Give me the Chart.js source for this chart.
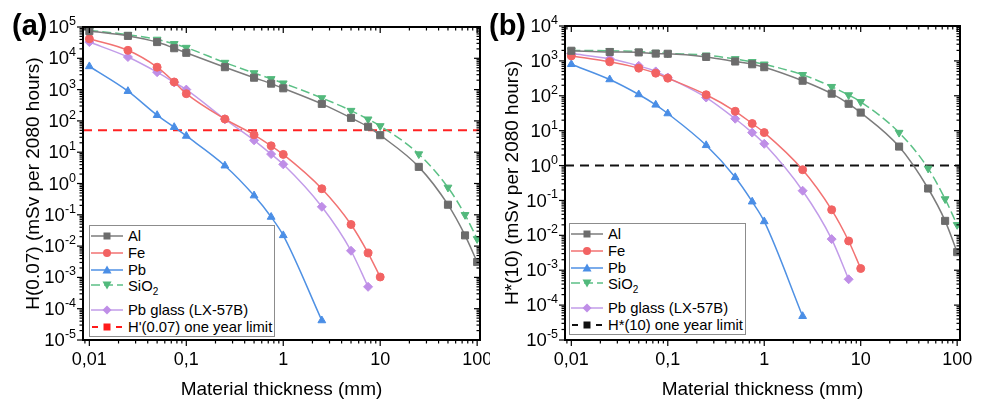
<!DOCTYPE html>
<html>
<head>
<meta charset="utf-8">
<script src="https://cdn.jsdelivr.net/npm/chart.js@4.4.1/dist/chart.umd.min.js"></script>
<style>
  body { margin: 0; background: #fff; font-family: "Liberation Sans", Arial, sans-serif; }
  #wrap { position: relative; width: 982px; height: 402px; overflow: hidden; }
  .panel { position: absolute; top: 0; }
  .tag { position: absolute; top: 11px; font-weight: bold; font-size: 29px; line-height: 28px; }
  .legend { position: absolute; background: #fff; border: 1.5px solid #8c8c8c; font-size: 14.8px; padding: 1px 2px 1px 0; }
  .row { display: flex; align-items: center; height: 17px; white-space: nowrap; }
  .row.tall { height: 23px; align-items: flex-start; }
  .row svg { margin: 0 5px 0 1px; flex: none; }
  sub { font-size: 10px; vertical-align: -4px; line-height: 0; }
</style>
</head>
<body>
<div id="wrap">
  <div class="panel" style="left:0"><canvas id="chartA" width="490" height="402"></canvas></div>
  <div class="panel" style="left:490px"><canvas id="chartB" width="492" height="402"></canvas></div>
  <div class="tag" style="left:12px">(a)</div>
  <div class="tag" style="left:489px">(b)</div>
  <div class="legend" id="legA" style="left:89px;top:225px"></div>
  <div class="legend" id="legB" style="left:569px;top:223px"></div>
</div>
<script>
const FONT = '"Liberation Sans", Arial, sans-serif';

const thickness = [0.01, 0.025, 0.05, 0.075, 0.1, 0.25, 0.5, 0.75, 1, 2.5, 5, 7.5, 10, 25, 50, 75, 100];
const xMin = 0.0086;
const xMax = 107;

// (a) H(0.07), mSv per 2080 hours
const alA = [74000, 52000, 33000, 21000, 15000, 5200, 2400, 1550, 1100, 350, 125, 65, 35, 3.4, 0.21, 0.022, 0.0031];
const feA = [42000, 18000, 5200, 1750, 740, 115, 36, 16, 8.5, 0.68, 0.049, 0.006, 0.00103];
const pbA = [5500, 890, 152, 63, 33, 3.7, 0.41, 0.085, 0.022, 0.000042];
const sio2A = [78000, 57000, 40000, 29000, 22000, 7300, 3400, 2200, 1600, 540, 213, 113, 69, 8.7, 0.75, 0.10, 0.017];
const pbGlassA = [33000, 11000, 3600, 1700, 1000, 113, 24, 8.7, 4.1, 0.18, 0.0071, 0.0005];
const limitA = 50;

// (b) H*(10), mSv per 2080 hours
const alB = [1950, 1800, 1750, 1620, 1600, 1300, 960, 800, 660, 270, 115, 59, 33, 3.5, 0.22, 0.026, 0.0033];
const feB = [1390, 940, 620, 445, 320, 107, 36, 16, 8.8, 0.76, 0.054, 0.0069, 0.00112];
const pbB = [800, 293, 109, 55, 31, 3.8, 0.46, 0.092, 0.025, 0.000048];
const sio2B = [2000, 1950, 1850, 1730, 1650, 1450, 1140, 940, 800, 400, 182, 105, 67, 8.8, 0.83, 0.11, 0.020];
const pbGlassB = [1620, 1150, 720, 500, 335, 89, 22, 8.8, 4.2, 0.19, 0.0078, 0.00055];
const limitB = 1;

const materials = ["Al", "Fe", "Pb", "SiO<sub>2</sub>", "Pb glass (LX-57B)"];
const styles = [
  { line: "#7c7c7c", fill: "#6c6c6c", shape: "rect", r: 5, dash: [] },
  { line: "#f27272", fill: "#f26363", shape: "circle", r: 4, dash: [] },
  { line: "#4f91e4", fill: "#4a8ee6", shape: "triangle", r: 4.5, dash: [] },
  { line: "#5cc086", fill: "#52b97c", shape: "triangleDown", r: 4.5, dash: [9, 4] },
  { line: "#c29ce9", fill: "#bf8ee7", shape: "rectRot", r: 4.5, dash: [] }
];

function logTicks(min, max) {
  const out = [];
  for (let e = Math.floor(Math.log10(min)); e <= Math.ceil(Math.log10(max)); e++) {
    for (let m = 1; m <= 9; m++) {
      const v = m * Math.pow(10, e);
      if (v >= min * 0.999 && v <= max * 1.001) out.push({ value: v, major: m === 1 });
    }
  }
  return out;
}

function line(ctx, x1, y1, x2, y2) {
  ctx.beginPath();
  ctx.moveTo(x1, y1);
  ctx.lineTo(x2, y2);
  ctx.stroke();
}

const framePlugin = {
  id: "frame",
  afterDatasetsDraw(chart) {
    const { ctx, chartArea: a, scales: { x, y } } = chart;
    ctx.save();
    ctx.strokeStyle = "#000";
    ctx.lineWidth = 1.2;
    for (const t of x.ticks) {
      const px = x.getPixelForValue(t.value);
      const L = t.major ? 6 : 3.5;
      line(ctx, px, a.bottom, px, a.bottom + L);
      line(ctx, px, a.top, px, a.top + L);
    }
    for (const t of y.ticks) {
      const py = y.getPixelForValue(t.value);
      const L = t.major ? 6 : 3.5;
      line(ctx, a.left - L, py, a.left, py);
      line(ctx, a.right - L, py, a.right, py);
    }
    ctx.lineWidth = 2;
    ctx.strokeRect(a.left, a.top, a.right - a.left, a.bottom - a.top);

    ctx.fillStyle = "#000";
    ctx.font = "18px " + FONT;
    ctx.textAlign = "center";
    ctx.textBaseline = "middle";
    for (const t of x.ticks) {
      if (!t.major) continue;
      ctx.fillText(String(t.value).replace(".", ","), x.getPixelForValue(t.value), a.bottom + 20);
    }
    for (const t of y.ticks) {
      if (!t.major) continue;
      const py = y.getPixelForValue(t.value);
      const e = Math.round(Math.log10(t.value));
      const exp = e < 0 ? "-" + (-e) : String(e);
      const right = a.left - 7;
      ctx.font = "12.5px " + FONT;
      const we = ctx.measureText(exp).width;
      ctx.textAlign = "left";
      ctx.textBaseline = "alphabetic";
      ctx.fillText(exp, right - we, py - 2);
      ctx.font = "18.5px " + FONT;
      ctx.textAlign = "right";
      ctx.textBaseline = "middle";
      ctx.fillText("10", right - we, py + 1);
    }
    ctx.restore();
  }
};

function makeDatasets(series, limit, limitColor) {
  const sets = series.map((vals, i) => {
    const s = styles[i];
    return {
      label: materials[i],
      data: vals.map((v, k) => ({ x: thickness[k], y: v })),
      borderColor: s.line,
      backgroundColor: s.fill,
      pointBorderColor: s.fill,
      pointBackgroundColor: s.fill,
      borderWidth: 1.5,
      borderDash: s.dash,
      pointStyle: s.shape === "triangleDown" ? "triangle" : s.shape,
      rotation: s.shape === "triangleDown" ? 180 : 0,
      pointRadius: s.r,
      pointBorderWidth: 1,
      cubicInterpolationMode: "monotone"
    };
  });
  sets.push({
    label: "limit",
    data: [{ x: xMin, y: limit }, { x: xMax, y: limit }],
    borderColor: limitColor,
    borderWidth: 2,
    borderDash: [9, 6],
    pointRadius: 0
  });
  return sets;
}

function makeChart(id, series, limit, limitColor, yMin, yMax, yTitle, pad, yWidth) {
  return new Chart(document.getElementById(id), {
    type: "line",
    data: { datasets: makeDatasets(series, limit, limitColor) },
    options: {
      responsive: false,
      animation: false,
      devicePixelRatio: 1,
      layout: { padding: pad },
      plugins: { legend: { display: false }, tooltip: { enabled: false } },
      scales: {
        x: {
          type: "logarithmic",
          min: xMin,
          max: xMax,
          afterBuildTicks: (s) => { s.ticks = logTicks(s.min, s.max); },
          afterFit: (s) => { s.height = 62; },
          grid: { display: false },
          border: { display: false },
          ticks: { display: false },
          title: { display: true, text: "Material thickness (mm)", color: "#000", font: { size: 19, family: FONT }, padding: { top: 0, bottom: 1 } }
        },
        y: {
          type: "logarithmic",
          min: yMin,
          max: yMax,
          afterBuildTicks: (s) => { s.ticks = logTicks(s.min, s.max); },
          afterFit: (s) => { s.width = yWidth; },
          grid: { display: false },
          border: { display: false },
          ticks: { display: false },
          title: { display: true, text: yTitle, color: "#000", font: { size: 19, family: FONT }, padding: 0 }
        }
      }
    },
    plugins: [framePlugin]
  });
}

makeChart("chartA", [alA, feA, pbA, sio2A, pbGlassA], limitA, "#ff2222", 1e-5, 1e5,
  "H(0.07) (mSv per 2080 hours)", { left: 22, top: 27, right: 10, bottom: 0 }, 61);
makeChart("chartB", [alB, feB, pbB, sio2B, pbGlassB], limitB, "#111111", 1e-5, 1e4,
  "H*(10) (mSv per 2080 hours)", { left: 11, top: 26, right: 22, bottom: 0 }, 64);

function markerSvg(shape, color, cx, cy) {
  if (shape === "rect") return `<rect x="${cx - 3.5}" y="${cy - 3.5}" width="7" height="7" fill="${color}"/>`;
  if (shape === "circle") return `<circle cx="${cx}" cy="${cy}" r="4" fill="${color}"/>`;
  if (shape === "triangle") return `<polygon points="${cx},${cy - 4.5} ${cx + 4.5},${cy + 3.5} ${cx - 4.5},${cy + 3.5}" fill="${color}"/>`;
  if (shape === "triangleDown") return `<polygon points="${cx},${cy + 4.5} ${cx + 4.5},${cy - 3.5} ${cx - 4.5},${cy - 3.5}" fill="${color}"/>`;
  return `<polygon points="${cx},${cy - 4.5} ${cx + 4.5},${cy} ${cx},${cy + 4.5} ${cx - 4.5},${cy}" fill="${color}"/>`;
}

function buildLegend(id, limitLabel, limitColor) {
  let html = "";
  materials.forEach((name, i) => {
    const s = styles[i];
    const dash = s.dash.length ? ` stroke-dasharray="${s.dash.join(",")}"` : "";
    html += `<div class="row${i === 3 ? " tall" : ""}"><svg width="32" height="14">` +
      `<line x1="0" y1="7" x2="32" y2="7" stroke="${s.line}" stroke-width="1.5"${dash}/>` +
      markerSvg(s.shape, s.fill, 16, 7) + `</svg><span>${name}</span></div>`;
  });
  html += `<div class="row"><svg width="32" height="14">` +
    `<line x1="1" y1="7" x2="7" y2="7" stroke="${limitColor}" stroke-width="2"/>` +
    `<line x1="25" y1="7" x2="31" y2="7" stroke="${limitColor}" stroke-width="2"/>` +
    markerSvg("rect", limitColor, 16, 7) + `</svg><span>${limitLabel}</span></div>`;
  document.getElementById(id).innerHTML = html;
}

buildLegend("legA", "H'(0.07) one year limit", "#ff1a1a");
buildLegend("legB", "H*(10) one year limit", "#111111");
</script>
</body>
</html>
